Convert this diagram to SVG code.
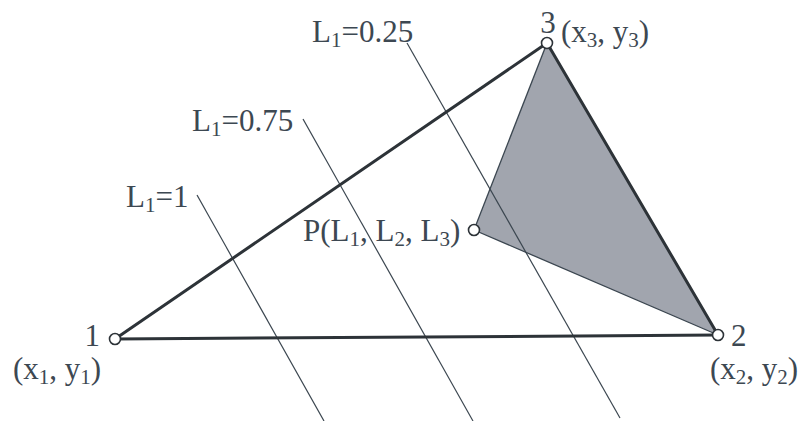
<svg xmlns="http://www.w3.org/2000/svg" width="803" height="421" viewBox="0 0 803 421">
<style>
  .lbl { font-family: "Liberation Serif", "Times New Roman", serif; font-size: 31px; fill: #3d4852; }
  .sub { font-size: 21px; }
  .thick { stroke: #2d3338; stroke-width: 3; fill: none; stroke-linecap: round; }
  .thin { stroke: #3b4650; stroke-width: 1.2; fill: none; }
  .edge { stroke: #3b4650; stroke-width: 1.3; fill: none; }
  .node { fill: #ffffff; stroke: #2d3338; stroke-width: 1.6; }
  .area { fill: #a1a5ae; stroke: none; }
</style>
<rect width="803" height="421" fill="#ffffff"/>
<g id="subtriangle">
  <polygon class="area" points="547,43 718,335 474,230"/>
</g>
<g id="connectors">
  <line class="thin" x1="197" y1="195" x2="324" y2="421"/>
  <line class="thin" x1="303" y1="119" x2="473" y2="421"/>
  <line class="thin" x1="407" y1="43" x2="620" y2="418"/>
  <line class="thick" x1="115" y1="339" x2="547" y2="43"/>
  <line class="thick" x1="115" y1="339" x2="718" y2="335"/>
  <line class="thick" x1="547" y1="43" x2="718" y2="335"/>
  <line class="edge" x1="474" y1="230" x2="547" y2="43"/>
  <line class="edge" x1="474" y1="230" x2="718" y2="335"/>
</g>
<g id="node-1">
  <circle class="node" cx="115" cy="339" r="5.5"/>
  <text class="lbl" x="100" y="346" text-anchor="end">1</text>
  <text class="lbl" x="13" y="379">(x<tspan class="sub" dy="5">1</tspan><tspan dy="-5">, y</tspan><tspan class="sub" dy="5">1</tspan><tspan dy="-5">)</tspan></text>
</g>
<g id="node-2">
  <circle class="node" cx="718" cy="335" r="5.5"/>
  <text class="lbl" x="731" y="346">2</text>
  <text class="lbl" x="710" y="379">(x<tspan class="sub" dy="5">2</tspan><tspan dy="-5">, y</tspan><tspan class="sub" dy="5">2</tspan><tspan dy="-5">)</tspan></text>
</g>
<g id="node-3">
  <circle class="node" cx="547" cy="43" r="5.5"/>
  <text class="lbl" x="548" y="33" text-anchor="middle">3</text>
  <text class="lbl" x="561" y="42">(x<tspan class="sub" dy="5">3</tspan><tspan dy="-5">, y</tspan><tspan class="sub" dy="5">3</tspan><tspan dy="-5">)</tspan></text>
</g>
<g id="node-P">
  <circle class="node" cx="474" cy="230" r="5.5"/>
  <text class="lbl" x="303" y="241">P(L<tspan class="sub" dy="5">1</tspan><tspan dy="-5">, L</tspan><tspan class="sub" dy="5">2</tspan><tspan dy="-5">, L</tspan><tspan class="sub" dy="5">3</tspan><tspan dy="-5">)</tspan></text>
</g>
<g id="labels">
  <text class="lbl" x="312" y="42">L<tspan class="sub" dy="5">1</tspan><tspan dy="-5">=0.25</tspan></text>
  <text class="lbl" x="192" y="131">L<tspan class="sub" dy="5">1</tspan><tspan dy="-5">=0.75</tspan></text>
  <text class="lbl" x="126" y="207">L<tspan class="sub" dy="5">1</tspan><tspan dy="-5">=1</tspan></text>
</g>
</svg>
